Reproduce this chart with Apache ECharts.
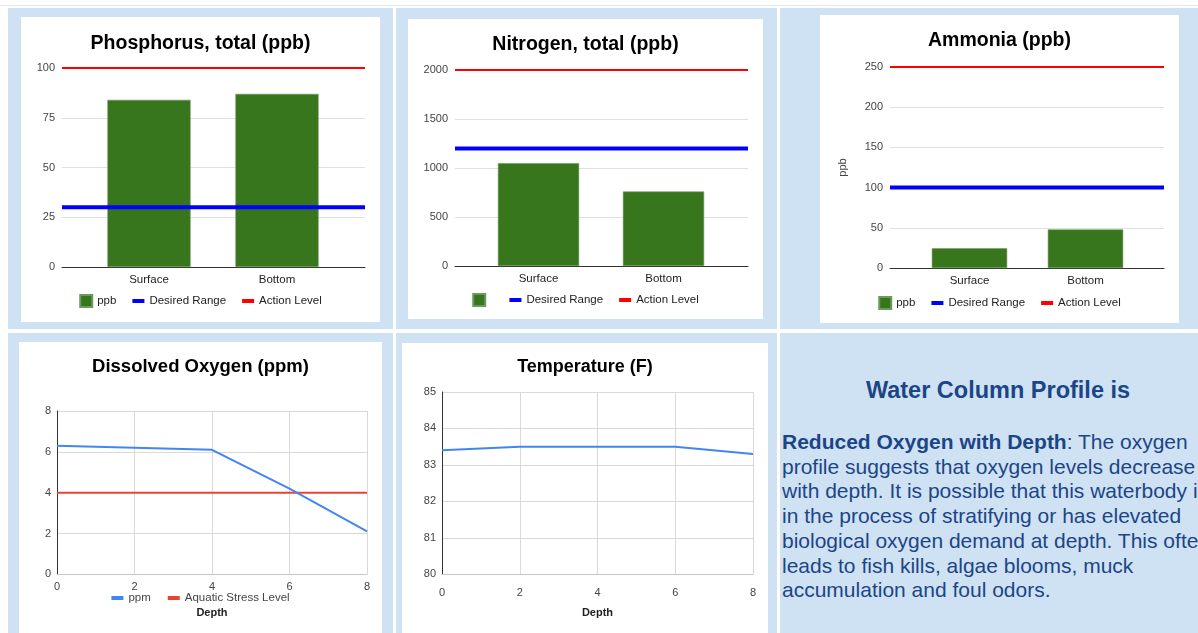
<!DOCTYPE html>
<html>
<head>
<meta charset="utf-8">
<script src="https://cdn.jsdelivr.net/npm/echarts@6/dist/echarts.min.js"></script>
<style>
	body { margin: 0; width: 1198px; height: 633px; background: #fff; position: relative; overflow: hidden; font-family: 'Liberation Sans', Arial, sans-serif; }
	.cell { position: absolute; background: #cfe2f3; }
	.panel { position: absolute; background: #fff; }
	.topline { position: absolute; left: 0; top: 5px; width: 1198px; height: 1px; background: #e1eaf4; }
	.note { position: absolute; left: 782px; color: #1c4587; white-space: nowrap; }
	.note-title { top: 375px; width: 432px; text-align: center; font-size: 23.5px; font-weight: bold; line-height: 30px; }
	.note-body { top: 430px; font-size: 21px; line-height: 24.7px; }
</style>
</head>
<body>
	<div class="topline"></div>
	<div class="cell" style="left:8px;top:8px;width:385px;height:321px"></div>
	<div class="cell" style="left:396px;top:8px;width:381px;height:321px"></div>
	<div class="cell" style="left:780px;top:8px;width:418px;height:321px"></div>
	<div class="cell" style="left:8px;top:333px;width:385px;height:300px"></div>
	<div class="cell" style="left:396px;top:333px;width:381px;height:300px"></div>
	<div class="cell" style="left:780px;top:333px;width:418px;height:300px"></div>

	<div class="panel" id="phosphorus" style="left:21px;top:17px;width:359px;height:305px"></div>
	<div class="panel" id="nitrogen" style="left:408px;top:19px;width:355px;height:300px"></div>
	<div class="panel" id="ammonia" style="left:820px;top:15px;width:359px;height:308px"></div>
	<div class="panel" id="oxygen" style="left:19px;top:342px;width:363px;height:291px"></div>
	<div class="panel" id="temperature" style="left:402px;top:343px;width:366px;height:290px"></div>

	<div class="note note-title">Water Column Profile is</div>
	<div class="note note-body"><b>Reduced Oxygen with Depth</b>: The oxygen<br>profile suggests that oxygen levels decrease<br>with depth. It is possible that this waterbody is<br>in the process of stratifying or has elevated<br>biological oxygen demand at depth. This often<br>leads to fish kills, algae blooms, muck<br>accumulation and foul odors.</div>

<script>
// 数据
const barCategories = ['Surface', 'Bottom']
const phosphorusValues = [84, 87]
const phosphorusLevels = [30, 100] // desired range, action level
const phosphorusTicks = [0, 100, 25]
const nitrogenValues = [1050, 760]
const nitrogenLevels = [1200, 2000]
const nitrogenTicks = [0, 2000, 500]
const ammoniaValues = [24.5, 48]
const ammoniaLevels = [100, 250]
const ammoniaTicks = [0, 250, 50]
const depths = [0, 2, 4, 6, 8]
const oxygenValues = [6.3, 6.2, 6.1, 4.2, 2.1]
const stressLevel = 4
const oxygenTicks = [0, 8, 2]
const temperatureValues = [83.4, 83.5, 83.5, 83.5, 83.3]
const temperatureTicks = [80, 85, 1]

const FONT = "'Liberation Sans', Arial, sans-serif"
// 图例里的短横线（12x12 的框里画一条 4px 的横条）
const DASH = 'path://M0 0H0.01V0.01H0Z M0 4H12V8H0Z M11.99 11.99H12V12H11.99Z'

// 柱状图 + 两条参考线
function barOption(title, values, levels, ticks, barName, lay) {
	const ref = (v) => [[0, v], [1, v]]
	return {
		animation: false,
		textStyle: { fontFamily: FONT },
		title: {
			text: title,
			left: 'center',
			top: lay.titleTop,
			textStyle: { fontSize: 19.5, fontWeight: 'bold', color: '#000', fontFamily: FONT },
		},
		legend: {
			top: lay.legendTop,
			left: 'center',
			padding: 0,
			itemWidth: 12,
			itemHeight: 12,
			itemGap: 16,
			textStyle: { fontSize: 11.5, color: '#222', fontFamily: FONT },
			data: [
				{ name: barName, icon: 'rect' },
				{ name: 'Desired Range', icon: DASH, itemStyle: { color: '#0000ff' } },
				{ name: 'Action Level', icon: DASH, itemStyle: { color: '#ff0000' } },
			],
		},
		grid: [
			{ left: lay.outer[0], right: lay.outer[1], top: lay.top, bottom: lay.bottom },
			{ left: lay.inner[0], right: lay.inner[1], top: lay.top, bottom: lay.bottom },
		],
		xAxis: [
			{
				type: 'value', gridIndex: 0, min: 0, max: 1,
				axisLine: { show: true, onZero: true, lineStyle: { color: '#333' } },
				axisTick: { show: false }, axisLabel: { show: false }, splitLine: { show: false },
			},
			{
				type: 'category', gridIndex: 1, data: barCategories,
				axisLine: { show: false }, axisTick: { show: false },
				axisLabel: { color: '#222', fontSize: 11.5, margin: 7 },
			},
		],
		yAxis: [
			{
				type: 'value', gridIndex: 0, min: ticks[0], max: ticks[1], interval: ticks[2],
				name: lay.yName || '', nameLocation: 'middle', nameGap: 42, nameRotate: 90,
				nameTextStyle: { color: '#444', fontSize: 11 },
				axisLine: { show: false }, axisTick: { show: false },
				axisLabel: { color: '#444', fontSize: 11, margin: 7, formatter: (v) => String(v) },
				splitLine: { lineStyle: { color: '#e0e0e0' } },
			},
			{
				type: 'value', gridIndex: 1, min: ticks[0], max: ticks[1], interval: ticks[2], show: false,
				splitLine: { show: false },
			},
		],
		series: [
			{
				type: 'bar', name: barName, xAxisIndex: 1, yAxisIndex: 1, barWidth: '65%',
				data: values,
				itemStyle: { color: '#38761d', borderColor: '#6b9a5a', borderWidth: 0.6 },
			},
			{
				type: 'line', name: 'Desired Range', xAxisIndex: 0, yAxisIndex: 0, symbol: 'none',
				data: ref(levels[0]), lineStyle: { color: '#0000ff', width: 4 }, itemStyle: { color: '#0000ff' }, z: 5,
			},
			{
				type: 'line', name: 'Action Level', xAxisIndex: 0, yAxisIndex: 0, symbol: 'none',
				data: ref(levels[1]), lineStyle: { color: '#ff0000', width: 2 }, itemStyle: { color: '#ff0000' }, z: 5,
			},
		],
	}
}

// 折线图（深度）
function depthOption(title, ticks, series, lay) {
	return {
		animation: false,
		textStyle: { fontFamily: FONT },
		title: {
			text: title,
			left: 'center',
			top: lay.titleTop,
			textStyle: { fontSize: lay.titleSize, fontWeight: 'bold', color: '#000', fontFamily: FONT },
		},
		legend: lay.legendTop == null ? { show: false } : {
			top: lay.legendTop,
			left: 'center',
			padding: 0,
			itemWidth: 12,
			itemHeight: 12,
			itemGap: 17,
			textStyle: { fontSize: 11.5, color: '#444', fontFamily: FONT },
			data: series.map((s) => ({ name: s.name, icon: DASH, itemStyle: { color: s.lineStyle.color } })),
		},
		grid: { left: lay.left, right: lay.right, top: lay.top, bottom: lay.bottom },
		xAxis: {
			type: 'value', min: 0, max: 8, interval: 2,
			name: 'Depth', nameLocation: 'middle', nameGap: 33,
			nameTextStyle: { color: '#222', fontSize: 11, fontWeight: 'bold' },
			axisLine: { show: true, lineStyle: { color: '#c8c8c8' } },
			axisTick: { show: false },
			axisLabel: { color: '#444', fontSize: 11, margin: lay.xMargin },
			splitLine: { show: true, lineStyle: { color: '#d9d9d9' } },
		},
		yAxis: {
			type: 'value', min: ticks[0], max: ticks[1], interval: ticks[2],
			axisLine: { show: true, onZero: false, lineStyle: { color: '#333' } },
			axisTick: { show: false },
			axisLabel: { color: '#444', fontSize: 11, margin: 6 },
			splitLine: { show: true, lineStyle: { color: '#d9d9d9' } },
		},
		series: series,
	}
}

const pair = (ys) => depths.map((d, i) => [d, ys[i]])

echarts.init(document.getElementById('phosphorus')).setOption(
	barOption('Phosphorus, total (ppb)', phosphorusValues, phosphorusLevels, phosphorusTicks, 'ppb',
		{ titleTop: 12, legendTop: 277, top: 51, bottom: 55, outer: [41, 15], inner: [64, 39] }))

echarts.init(document.getElementById('nitrogen')).setOption(
	barOption('Nitrogen, total (ppb)', nitrogenValues, nitrogenLevels, nitrogenTicks, ' ',
		{ titleTop: 11, legendTop: 274, top: 51, bottom: 53, outer: [47, 15], inner: [68, 37] }))

echarts.init(document.getElementById('ammonia')).setOption(
	barOption('Ammonia (ppb)', ammoniaValues, ammoniaLevels, ammoniaTicks, 'ppb',
		{ titleTop: 11, legendTop: 281, top: 52, bottom: 55, outer: [70, 15], inner: [91.5, 35.5], yName: 'ppb' }))

echarts.init(document.getElementById('oxygen')).setOption(
	depthOption('Dissolved Oxygen (ppm)', oxygenTicks, [
		{ type: 'line', name: 'ppm', symbol: 'none', data: pair(oxygenValues),
			lineStyle: { color: '#4285f4', width: 2 }, itemStyle: { color: '#4285f4' }, z: 4 },
		{ type: 'line', name: 'Aquatic Stress Level', symbol: 'none', data: pair(depths.map(() => stressLevel)),
			lineStyle: { color: '#ea4335', width: 2 }, itemStyle: { color: '#ea4335' }, z: 3 },
	], { titleTop: 10, titleSize: 18.5, legendTop: 250, left: 38, right: 15, top: 69, bottom: 58.7, xMargin: 7 }))

echarts.init(document.getElementById('temperature')).setOption(
	depthOption('Temperature (F)', temperatureTicks, [
		{ type: 'line', name: 'Temperature', symbol: 'none', data: pair(temperatureValues),
			lineStyle: { color: '#4285f4', width: 2 }, itemStyle: { color: '#4285f4' } },
	], { titleTop: 10, titleSize: 18, legendTop: null, left: 40, right: 15, top: 49, bottom: 58.7, xMargin: 13 }))
</script>
</body>
</html>
